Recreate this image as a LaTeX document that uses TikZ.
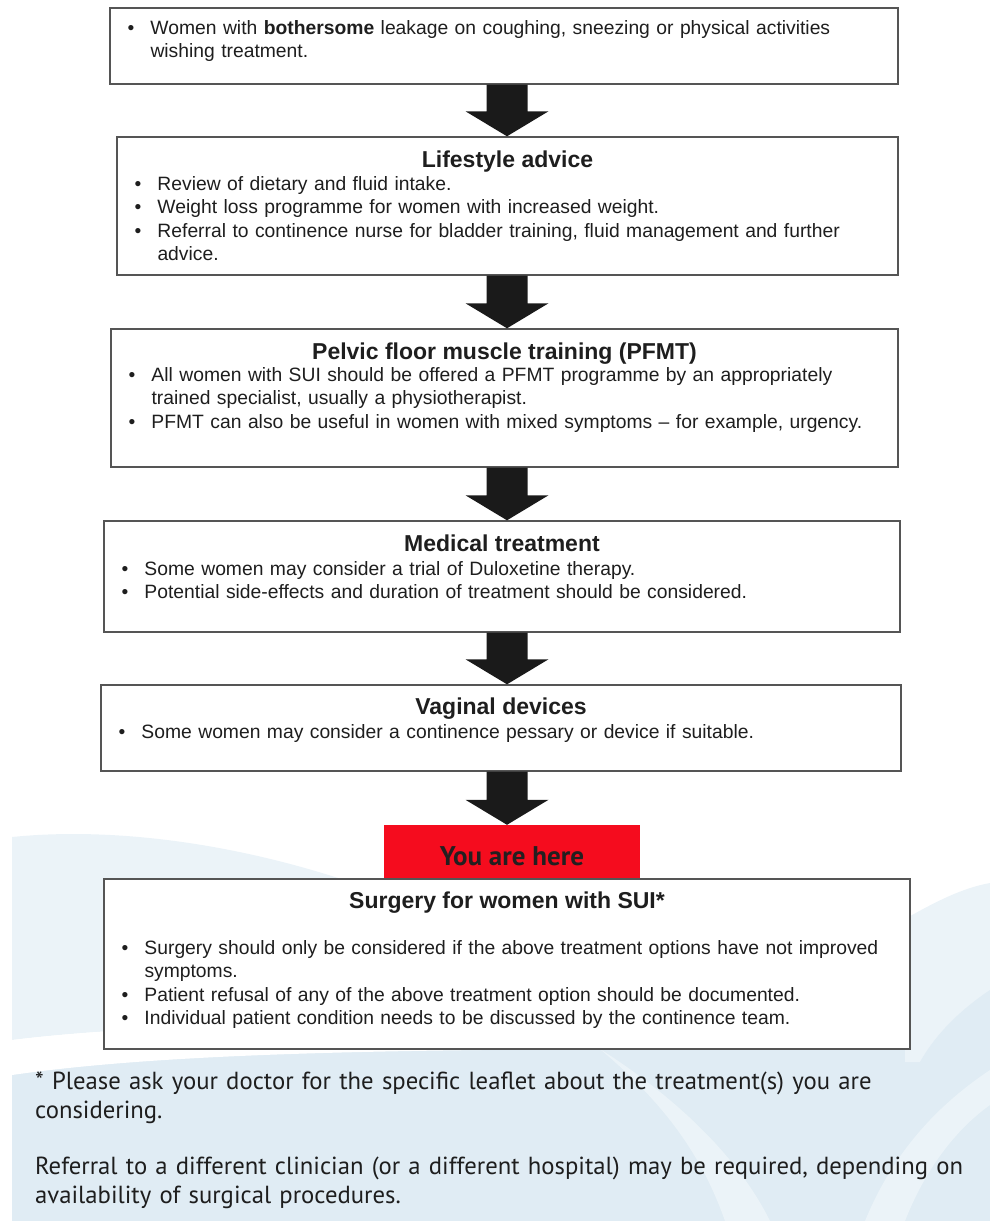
\documentclass[tikz,border=0pt]{standalone}
\usepackage{fontspec}
\setmainfont{Liberation Sans}
\newfontfamily\notefont{PT Sans}
\usetikzlibrary{positioning, calc}
\definecolor{boxline}{RGB}{85,85,85}
\definecolor{arrowcol}{RGB}{26,26,26}
\definecolor{herecol}{RGB}{245,12,30}
\definecolor{heretext}{RGB}{35,31,32}
\definecolor{textcol}{RGB}{30,30,30}
\definecolor{bgmid}{RGB}{224,236,244}
\definecolor{bglight}{RGB}{235,243,248}

\newcommand{\bodyfont}{\fontsize{19.3}{23.5}\selectfont}
\newcommand{\titlefont}{\fontsize{23}{27}\selectfont\bfseries}
\newlength{\bulind}\setlength{\bulind}{23pt}
\newcommand{\bul}[1]{\hangindent=\bulind\hangafter=1\noindent\hbox to\bulind{\textbullet\hfil}#1\par}
% block arrow from the bottom of #1 to the top of #2
\newcommand{\flowarrow}[2]{%
  \fill[flow] ($(spine |- #1.south)+(-20.5,0)$) -- ($(spine |- #1.south)+(20.5,0)$)
    -- ($(spine |- #2.north)+(20.5,25)$) -- ($(spine |- #2.north)+(41.5,25)$)
    -- (spine |- #2.north)
    -- ($(spine |- #2.north)+(-41.5,25)$) -- ($(spine |- #2.north)+(-20.5,25)$) -- cycle;}

\begin{document}
\begin{tikzpicture}[
    x=1pt, y=1pt,
    stage/.style = {rectangle, draw=boxline, line width=1.4pt, fill=white, inner sep=0pt},
    title/.style = {font=\titlefont, text=textcol, inner sep=0pt},
    body/.style = {font=\bodyfont, text=textcol, inner sep=0pt, text width=#1},
    here/.style = {rectangle, fill=herecol, inner sep=0pt, minimum width=256pt, minimum height=54pt},
    heretxt/.style = {font=\notefont\bfseries\fontsize{27}{30}\selectfont, text=heretext, inner sep=0pt},
    note/.style = {font=\notefont\fontsize{24.7}{29.5}\selectfont, text=textcol, inner sep=0pt, align=left, text width=950pt},
    flow/.style = {fill=arrowcol}
]
    \useasboundingbox (0,0) rectangle (990,-1221);

    % Background
    \begin{scope}
        \clip (12,-828) rectangle (990,-1221);
        \fill[bgmid] (12,-1040) rectangle (990,-1221);
        \fill[bglight] (12,-837) .. controls (120,-826) and (260,-845) .. (400,-900)
            -- (400,-1030) .. controls (250,-1022) and (110,-1028) .. (12,-1040) -- cycle;
        \fill[white] (12,-1040) .. controls (110,-1028) and (250,-1022) .. (400,-1030)
            -- (620,-1049) .. controls (350,-1050) and (150,-1055) .. (12,-1075) -- cycle;
        \fill[bglight] (600,-1049) .. controls (680,-1100) and (740,-1160) .. (770,-1221)
            -- (725,-1221) .. controls (700,-1150) and (660,-1100) .. (600,-1049) -- cycle;
        \fill[bglight] (990,-1070) .. controls (930,-1110) and (890,-1160) .. (865,-1221)
            -- (905,-1221) .. controls (925,-1170) and (955,-1130) .. (990,-1105) -- cycle;
        \fill[bglight] (905,-919) .. controls (935,-902) and (962,-888) .. (990,-883)
            -- (990,-1062) -- (905,-1062) -- cycle;
        \fill[bgmid] (990,-990) .. controls (960,-1010) and (935,-1035) .. (920,-1062)
            -- (990,-1062) -- cycle;
    \end{scope}

    \coordinate (spine) at (507,0);

    % Who it is for
    \node[stage, minimum width=788pt, minimum height=76pt] (s1) at (504,-46) {};
    \node[body=760pt, below right=27pt and 18pt of s1.north west, anchor=base west] (s1b) {%
        \bul{Women with \textbf{bothersome} leakage on coughing, sneezing or physical activities\newline wishing treatment.}};

    % Lifestyle
    \node[stage, minimum width=781pt, minimum height=138pt] (s2) at (507.5,-206) {};
    \node[title, below=31pt of s2.north, anchor=base] (s2t) {Lifestyle advice};
    \node[body=750pt, below right=54pt and 18pt of s2.north west, anchor=base west] (s2b) {%
        \bul{Review of dietary and fluid intake.}
        \bul{Weight loss programme for women with increased weight.}
        \bul{Referral to continence nurse for bladder training, fluid management and further\newline advice.}};

    % PFMT
    \node[stage, minimum width=787pt, minimum height=138pt] (s3) at (504.5,-398) {};
    \node[title, below=31pt of s3.north, anchor=base] (s3t) {Pelvic floor muscle training (PFMT)};
    \node[body=760pt, below right=53pt and 18pt of s3.north west, anchor=base west] (s3b) {%
        \bul{All women with SUI should be offered a PFMT programme by an appropriately\newline trained specialist, usually a physiotherapist.}
        \bul{PFMT can also be useful in women with mixed symptoms -- for example, urgency.}};

    % Medical
    \node[stage, minimum width=796pt, minimum height=111pt] (s4) at (502,-576.5) {};
    \node[title, below=31pt of s4.north, anchor=base] (s4t) {Medical treatment};
    \node[body=770pt, below right=55pt and 18pt of s4.north west, anchor=base west] (s4b) {%
        \bul{Some women may consider a trial of Duloxetine therapy.}
        \bul{Potential side-effects and duration of treatment should be considered.}};

    % Devices
    \node[stage, minimum width=800pt, minimum height=86pt] (s5) at (501,-728) {};
    \node[title, below=30pt of s5.north, anchor=base] (s5t) {Vaginal devices};
    \node[body=770pt, below right=54pt and 18pt of s5.north west, anchor=base west] (s5b) {%
        \bul{Some women may consider a continence pessary or device if suitable.}};

    % You are here
    \node[here] (here) at (512,-852) {};
    \node[heretxt, below=41pt of here.north, anchor=base] (heret) {You are here};

    % Surgery
    \node[stage, minimum width=806pt, minimum height=170pt] (s6) at (507,-964) {};
    \node[title, below=30pt of s6.north, anchor=base] (s6t) {Surgery for women with SUI*};
    \node[body=780pt, below right=76pt and 18pt of s6.north west, anchor=base west] (s6b) {%
        \bul{Surgery should only be considered if the above treatment options have not improved\newline symptoms.}
        \bul{Patient refusal of any of the above treatment option should be documented.}
        \bul{Individual patient condition needs to be discussed by the continence team.}};

    % Footnotes
    \node[note, anchor=base west] (note1) at (35,-1089) {* Please ask your doctor for the specific leaflet about the treatment(s) you are\\considering.};
    \node[note, anchor=base west] (note2) at (35,-1174) {Referral to a different clinician (or a different hospital) may be required, depending on\\availability of surgical procedures.};

    % Arrows
    \flowarrow{s1}{s2}
    \flowarrow{s2}{s3}
    \flowarrow{s3}{s4}
    \flowarrow{s4}{s5}
    \flowarrow{s5}{here}

\end{tikzpicture}
\end{document}
